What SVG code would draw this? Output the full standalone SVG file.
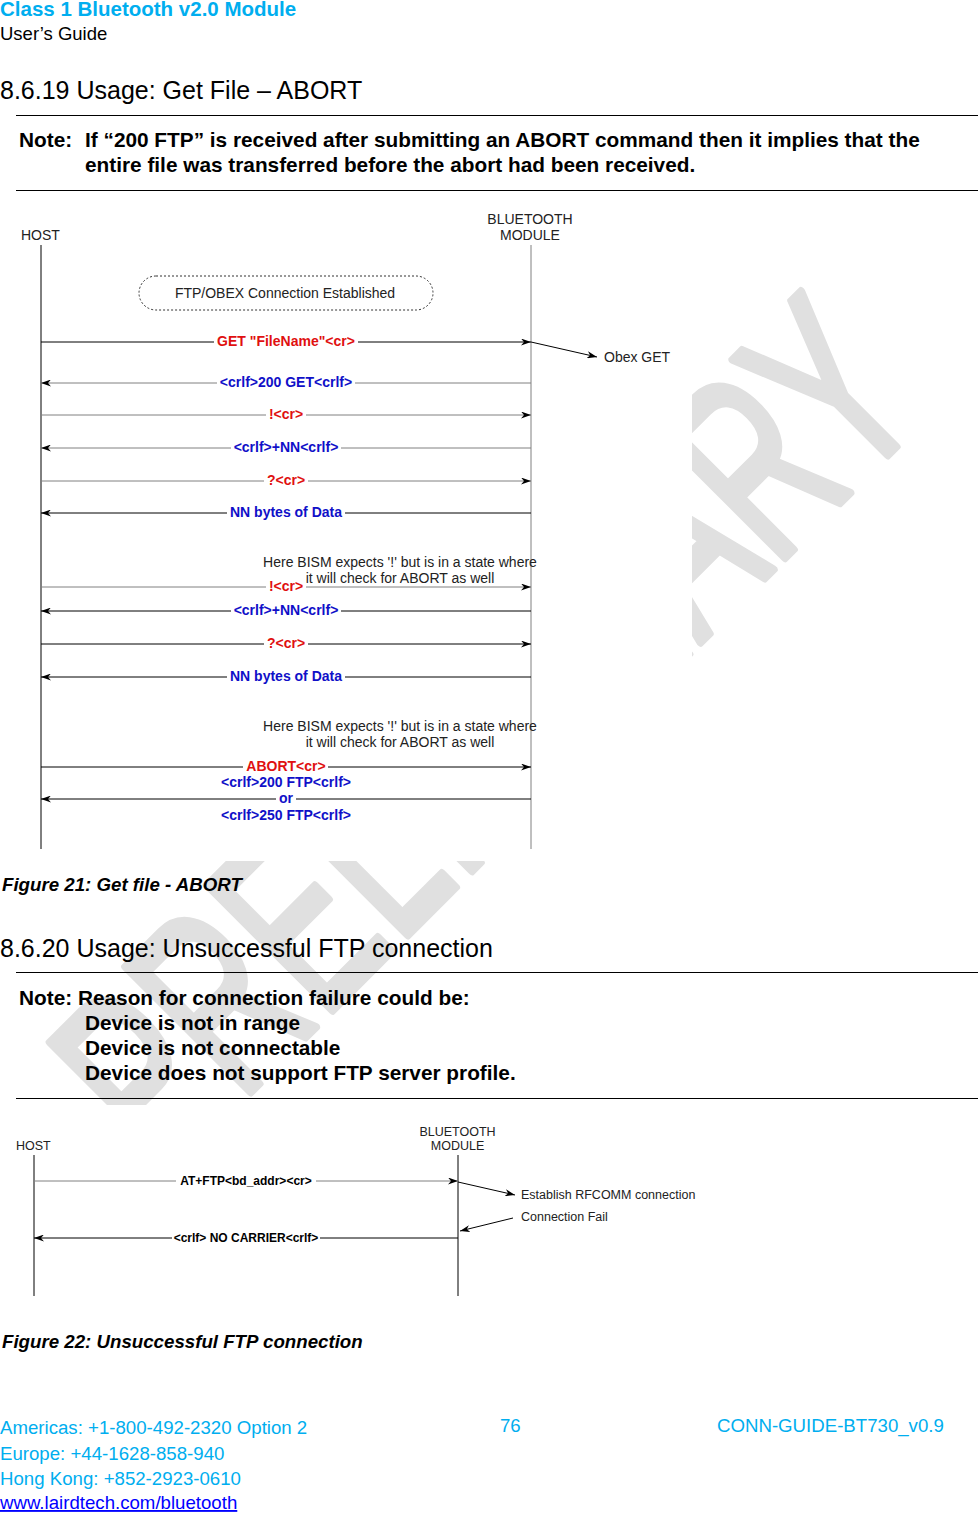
<svg xmlns="http://www.w3.org/2000/svg" width="978" height="1514" viewBox="0 0 978 1514">
<style>
.h1{font-family:"Liberation Sans",Arial,sans-serif;font-size:25px;fill:#000}
.note{font-family:"Liberation Sans",Arial,sans-serif;font-size:20.8px;font-weight:bold;fill:#000}
.cap{font-family:"Liberation Sans",Arial,sans-serif;font-size:18.7px;font-weight:bold;font-style:italic;fill:#000}
.foot{font-family:"Liberation Sans",Arial,sans-serif;font-size:18.65px;fill:#00AEEF}
.d{font-family:"Liberation Sans",Arial,sans-serif;font-size:14px;fill:#222}
.d2{font-family:"Liberation Sans",Arial,sans-serif;font-size:12.5px;fill:#222}
.lr{font-family:"Liberation Sans",Arial,sans-serif;font-size:14px;font-weight:bold;fill:#e01010;text-anchor:middle}
.lb{font-family:"Liberation Sans",Arial,sans-serif;font-size:14px;font-weight:bold;fill:#1010c8;text-anchor:middle}
.lk{font-family:"Liberation Sans",Arial,sans-serif;font-size:12px;font-weight:bold;fill:#000;text-anchor:middle}
.k{stroke:#000;stroke-width:1;fill:none}
.g{stroke:#808080;stroke-width:1;fill:none}
.rule{stroke:#000;stroke-width:1.2}
</style>
<defs>
<marker id="ah" viewBox="0 0 10 7" refX="10" refY="3.5" markerWidth="10" markerHeight="7" markerUnits="userSpaceOnUse" orient="auto">
<path d="M0,0 L10,3.5 L0,7 L3,3.5 Z" fill="#000"/>
</marker>
</defs>
<rect width="978" height="1514" fill="#fff"/>
<!-- watermark -->
<g id="watermark">
<text transform="translate(165,1178) rotate(-45) scale(1,1.61)" font-family="Liberation Sans,Arial,sans-serif" font-size="160" fill="#e0e0e0" stroke="#e0e0e0" stroke-width="5" stroke-linejoin="round">PRELIMINARY</text>
</g>
<!-- figure image backgrounds -->
<rect x="0" y="198" width="692" height="663" fill="#fff"/>
<rect x="0" y="1105" width="712" height="200" fill="#fff"/>

<!-- page header -->
<g id="header">
<text x="0" y="16" font-family="Liberation Sans,Arial,sans-serif" font-size="20.5" font-weight="bold" fill="#00AEEF">Class 1 Bluetooth v2.0 Module</text>
<text x="0" y="40" font-family="Liberation Sans,Arial,sans-serif" font-size="18.5" fill="#000">User’s Guide</text>
</g>

<g id="section-8-6-19">
<text class="h1" x="0" y="99">8.6.19 Usage: Get File – ABORT</text>
<line class="rule" x1="16" y1="115.5" x2="978" y2="115.5"/>
<text class="note" x="19" y="147">Note:</text>
<text class="note" x="85" y="147">If “200 FTP” is received after submitting an ABORT command then it implies that the</text>
<text class="note" x="85" y="172">entire file was transferred before the abort had been received.</text>
<line class="rule" x1="16" y1="190.5" x2="978" y2="190.5"/>
</g>

<!-- Figure 21 -->
<g id="fig21-host">
<text class="d" x="21" y="240">HOST</text>
<line class="k" x1="41" y1="245" x2="41" y2="849"/>
</g>
<g id="fig21-module">
<text class="d" x="530" y="224" text-anchor="middle">BLUETOOTH</text>
<text class="d" x="530" y="240" text-anchor="middle">MODULE</text>
<line class="g" x1="531" y1="245" x2="531" y2="849"/>
</g>
<g id="fig21-connection">
<rect x="139" y="276" width="294" height="34" rx="17" fill="none" stroke="#333" stroke-width="1" stroke-dasharray="2,2"/>
<text class="d" x="285" y="298" text-anchor="middle">FTP/OBEX Connection Established</text>
</g>
<g id="fig21-obex">
<text class="d" x="604" y="362">Obex GET</text>
</g>
<g id="fig21-notes">
<text class="d" x="400" y="567" text-anchor="middle">Here BISM expects '!' but is in a state where</text>
<text class="d" x="400" y="583" text-anchor="middle">it will check for ABORT as well</text>
<text class="d" x="400" y="731" text-anchor="middle">Here BISM expects '!' but is in a state where</text>
<text class="d" x="400" y="747" text-anchor="middle">it will check for ABORT as well</text>
</g>
<g id="fig21-connectors" marker-end="url(#ah)">
<path class="k" d="M41,342H214M358,342H531"/>
<path class="k" d="M531,342L597,357"/>
<path class="g" d="M531,383H355M217,383H41"/>
<path class="g" d="M41,415H266M306,415H531"/>
<path class="g" d="M531,448H341M231,448H41"/>
<path class="g" d="M41,481H264M308,481H531"/>
<path class="k" d="M531,513H345M227,513H41"/>
<path class="g" d="M41,587H266M306,587H531"/>
<path class="k" d="M531,611H341M231,611H41"/>
<path class="k" d="M41,644H264M308,644H531"/>
<path class="k" d="M531,677H345M227,677H41"/>
<path class="k" d="M41,767H243M328,767H531"/>
<path class="k" d="M531,799H296M276,799H41"/>
</g>
<g id="fig21-labels">
<text class="lr" x="286" y="346">GET "FileName"&lt;cr&gt;</text>
<text class="lb" x="286" y="387">&lt;crlf&gt;200 GET&lt;crlf&gt;</text>
<text class="lr" x="286" y="419">!&lt;cr&gt;</text>
<text class="lb" x="286" y="452">&lt;crlf&gt;+NN&lt;crlf&gt;</text>
<text class="lr" x="286" y="485">?&lt;cr&gt;</text>
<text class="lb" x="286" y="517">NN bytes of Data</text>
<text class="lr" x="286" y="591">!&lt;cr&gt;</text>
<text class="lb" x="286" y="615">&lt;crlf&gt;+NN&lt;crlf&gt;</text>
<text class="lr" x="286" y="648">?&lt;cr&gt;</text>
<text class="lb" x="286" y="681">NN bytes of Data</text>
<text class="lr" x="286" y="771">ABORT&lt;cr&gt;</text>
<text class="lb" x="286" y="787">&lt;crlf&gt;200 FTP&lt;crlf&gt;</text>
<text class="lb" x="286" y="803">or</text>
<text class="lb" x="286" y="820">&lt;crlf&gt;250 FTP&lt;crlf&gt;</text>
</g>
<text class="cap" x="2" y="891">Figure 21: Get file - ABORT</text>

<g id="section-8-6-20">
<text class="h1" x="0" y="957">8.6.20 Usage: Unsuccessful FTP connection</text>
<line class="rule" x1="16" y1="972.5" x2="978" y2="972.5"/>
<text class="note" x="19" y="1005">Note: Reason for connection failure could be:</text>
<text class="note" x="85" y="1030">Device is not in range</text>
<text class="note" x="85" y="1055">Device is not connectable</text>
<text class="note" x="85" y="1080">Device does not support FTP server profile.</text>
<line class="rule" x1="16" y1="1098.5" x2="978" y2="1098.5"/>
</g>

<!-- Figure 22 -->
<g id="fig22-host">
<text class="d2" x="16" y="1150">HOST</text>
<line class="k" x1="34" y1="1155" x2="34" y2="1296"/>
</g>
<g id="fig22-module">
<text class="d2" x="457.5" y="1136" text-anchor="middle">BLUETOOTH</text>
<text class="d2" x="457.5" y="1150" text-anchor="middle">MODULE</text>
<line class="k" x1="458" y1="1155" x2="458" y2="1296"/>
</g>
<g id="fig22-notes">
<text class="d2" x="521" y="1199">Establish RFCOMM connection</text>
<text class="d2" x="521" y="1221">Connection Fail</text>
</g>
<g id="fig22-connectors" marker-end="url(#ah)">
<path class="g" d="M34,1181H176M316,1181H458"/>
<path class="k" d="M458,1182L515,1195"/>
<path class="k" d="M513,1218L460,1231"/>
<path class="k" d="M458,1238H320M172,1238H34"/>
</g>
<g id="fig22-labels">
<text class="lk" x="246" y="1185">AT+FTP&lt;bd_addr&gt;&lt;cr&gt;</text>
<text class="lk" x="246" y="1242">&lt;crlf&gt; NO CARRIER&lt;crlf&gt;</text>
</g>
<text class="cap" x="2" y="1348">Figure 22: Unsuccessful FTP connection</text>

<g id="footer">
<text class="foot" x="0" y="1434">Americas: +1-800-492-2320 Option 2</text>
<text class="foot" x="0" y="1460">Europe: +44-1628-858-940</text>
<text class="foot" x="0" y="1485">Hong Kong: +852-2923-0610</text>
<text class="foot" x="0" y="1509" style="fill:#0000FF" text-decoration="underline">www.lairdtech.com/bluetooth</text>
<text class="foot" x="500" y="1432">76</text>
<text class="foot" x="717" y="1432">CONN-GUIDE-BT730_v0.9</text>
</g>
</svg>
